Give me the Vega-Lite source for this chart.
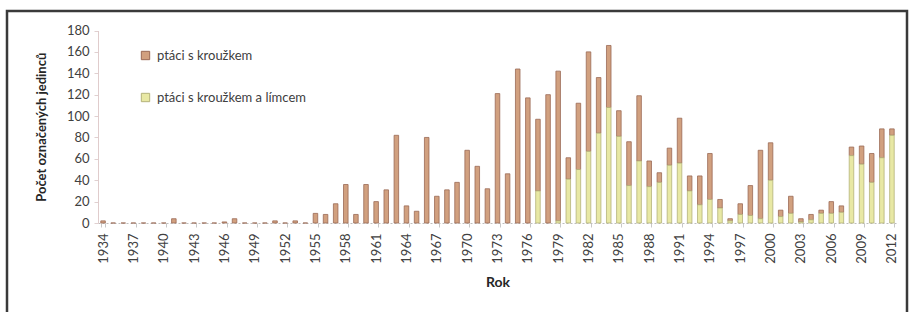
{
  "$schema": "https://vega.github.io/schema/vega-lite/v6.json",
  "autosize": {"type": "none"},
  "padding": {"left": 7, "top": 11, "right": 4, "bottom": -5},
  "width": 900,
  "height": 306,
  "background": "white",
  "config": {
    "view": {"stroke": "#3a3a3a", "strokeWidth": 2.5},
    "font": "Lato"
  },
  "data": {
    "values": [
      {"rok": 1934, "serie": "ptáci s kroužkem", "pocet": 2},
      {"rok": 1935, "serie": "ptáci s kroužkem", "pocet": 0},
      {"rok": 1936, "serie": "ptáci s kroužkem", "pocet": 0},
      {"rok": 1937, "serie": "ptáci s kroužkem", "pocet": 0},
      {"rok": 1938, "serie": "ptáci s kroužkem", "pocet": 0},
      {"rok": 1939, "serie": "ptáci s kroužkem", "pocet": 0},
      {"rok": 1940, "serie": "ptáci s kroužkem", "pocet": 0},
      {"rok": 1941, "serie": "ptáci s kroužkem", "pocet": 4},
      {"rok": 1942, "serie": "ptáci s kroužkem", "pocet": 0},
      {"rok": 1943, "serie": "ptáci s kroužkem", "pocet": 0},
      {"rok": 1944, "serie": "ptáci s kroužkem", "pocet": 0},
      {"rok": 1945, "serie": "ptáci s kroužkem", "pocet": 0},
      {"rok": 1946, "serie": "ptáci s kroužkem", "pocet": 1},
      {"rok": 1947, "serie": "ptáci s kroužkem", "pocet": 4},
      {"rok": 1948, "serie": "ptáci s kroužkem", "pocet": 0},
      {"rok": 1949, "serie": "ptáci s kroužkem", "pocet": 0},
      {"rok": 1950, "serie": "ptáci s kroužkem", "pocet": 0},
      {"rok": 1951, "serie": "ptáci s kroužkem", "pocet": 2},
      {"rok": 1952, "serie": "ptáci s kroužkem", "pocet": 0},
      {"rok": 1953, "serie": "ptáci s kroužkem", "pocet": 2},
      {"rok": 1954, "serie": "ptáci s kroužkem", "pocet": 0},
      {"rok": 1955, "serie": "ptáci s kroužkem", "pocet": 9},
      {"rok": 1956, "serie": "ptáci s kroužkem", "pocet": 8},
      {"rok": 1957, "serie": "ptáci s kroužkem", "pocet": 18},
      {"rok": 1958, "serie": "ptáci s kroužkem", "pocet": 36},
      {"rok": 1959, "serie": "ptáci s kroužkem", "pocet": 8},
      {"rok": 1960, "serie": "ptáci s kroužkem", "pocet": 36},
      {"rok": 1961, "serie": "ptáci s kroužkem", "pocet": 20},
      {"rok": 1962, "serie": "ptáci s kroužkem", "pocet": 31},
      {"rok": 1963, "serie": "ptáci s kroužkem", "pocet": 82},
      {"rok": 1964, "serie": "ptáci s kroužkem", "pocet": 16},
      {"rok": 1965, "serie": "ptáci s kroužkem", "pocet": 11},
      {"rok": 1966, "serie": "ptáci s kroužkem", "pocet": 80},
      {"rok": 1967, "serie": "ptáci s kroužkem", "pocet": 25},
      {"rok": 1968, "serie": "ptáci s kroužkem", "pocet": 31},
      {"rok": 1969, "serie": "ptáci s kroužkem", "pocet": 38},
      {"rok": 1970, "serie": "ptáci s kroužkem", "pocet": 68},
      {"rok": 1971, "serie": "ptáci s kroužkem", "pocet": 53},
      {"rok": 1972, "serie": "ptáci s kroužkem", "pocet": 32},
      {"rok": 1973, "serie": "ptáci s kroužkem", "pocet": 121},
      {"rok": 1974, "serie": "ptáci s kroužkem", "pocet": 46},
      {"rok": 1975, "serie": "ptáci s kroužkem", "pocet": 144},
      {"rok": 1976, "serie": "ptáci s kroužkem", "pocet": 117},
      {"rok": 1977, "serie": "ptáci s kroužkem", "pocet": 67},
      {"rok": 1977, "serie": "ptáci s kroužkem a límcem", "pocet": 30},
      {"rok": 1978, "serie": "ptáci s kroužkem", "pocet": 120},
      {"rok": 1979, "serie": "ptáci s kroužkem", "pocet": 140},
      {"rok": 1979, "serie": "ptáci s kroužkem a límcem", "pocet": 2},
      {"rok": 1980, "serie": "ptáci s kroužkem", "pocet": 20},
      {"rok": 1980, "serie": "ptáci s kroužkem a límcem", "pocet": 41},
      {"rok": 1981, "serie": "ptáci s kroužkem", "pocet": 62},
      {"rok": 1981, "serie": "ptáci s kroužkem a límcem", "pocet": 50},
      {"rok": 1982, "serie": "ptáci s kroužkem", "pocet": 93},
      {"rok": 1982, "serie": "ptáci s kroužkem a límcem", "pocet": 67},
      {"rok": 1983, "serie": "ptáci s kroužkem", "pocet": 52},
      {"rok": 1983, "serie": "ptáci s kroužkem a límcem", "pocet": 84},
      {"rok": 1984, "serie": "ptáci s kroužkem", "pocet": 58},
      {"rok": 1984, "serie": "ptáci s kroužkem a límcem", "pocet": 108},
      {"rok": 1985, "serie": "ptáci s kroužkem", "pocet": 24},
      {"rok": 1985, "serie": "ptáci s kroužkem a límcem", "pocet": 81},
      {"rok": 1986, "serie": "ptáci s kroužkem", "pocet": 41},
      {"rok": 1986, "serie": "ptáci s kroužkem a límcem", "pocet": 35},
      {"rok": 1987, "serie": "ptáci s kroužkem", "pocet": 61},
      {"rok": 1987, "serie": "ptáci s kroužkem a límcem", "pocet": 58},
      {"rok": 1988, "serie": "ptáci s kroužkem", "pocet": 24},
      {"rok": 1988, "serie": "ptáci s kroužkem a límcem", "pocet": 34},
      {"rok": 1989, "serie": "ptáci s kroužkem", "pocet": 9},
      {"rok": 1989, "serie": "ptáci s kroužkem a límcem", "pocet": 38},
      {"rok": 1990, "serie": "ptáci s kroužkem", "pocet": 16},
      {"rok": 1990, "serie": "ptáci s kroužkem a límcem", "pocet": 54},
      {"rok": 1991, "serie": "ptáci s kroužkem", "pocet": 42},
      {"rok": 1991, "serie": "ptáci s kroužkem a límcem", "pocet": 56},
      {"rok": 1992, "serie": "ptáci s kroužkem", "pocet": 14},
      {"rok": 1992, "serie": "ptáci s kroužkem a límcem", "pocet": 30},
      {"rok": 1993, "serie": "ptáci s kroužkem", "pocet": 27},
      {"rok": 1993, "serie": "ptáci s kroužkem a límcem", "pocet": 17},
      {"rok": 1994, "serie": "ptáci s kroužkem", "pocet": 43},
      {"rok": 1994, "serie": "ptáci s kroužkem a límcem", "pocet": 22},
      {"rok": 1995, "serie": "ptáci s kroužkem", "pocet": 8},
      {"rok": 1995, "serie": "ptáci s kroužkem a límcem", "pocet": 14},
      {"rok": 1996, "serie": "ptáci s kroužkem", "pocet": 2},
      {"rok": 1996, "serie": "ptáci s kroužkem a límcem", "pocet": 2},
      {"rok": 1997, "serie": "ptáci s kroužkem", "pocet": 10},
      {"rok": 1997, "serie": "ptáci s kroužkem a límcem", "pocet": 8},
      {"rok": 1998, "serie": "ptáci s kroužkem", "pocet": 28},
      {"rok": 1998, "serie": "ptáci s kroužkem a límcem", "pocet": 7},
      {"rok": 1999, "serie": "ptáci s kroužkem", "pocet": 64},
      {"rok": 1999, "serie": "ptáci s kroužkem a límcem", "pocet": 4},
      {"rok": 2000, "serie": "ptáci s kroužkem", "pocet": 35},
      {"rok": 2000, "serie": "ptáci s kroužkem a límcem", "pocet": 40},
      {"rok": 2001, "serie": "ptáci s kroužkem", "pocet": 6},
      {"rok": 2001, "serie": "ptáci s kroužkem a límcem", "pocet": 6},
      {"rok": 2002, "serie": "ptáci s kroužkem", "pocet": 16},
      {"rok": 2002, "serie": "ptáci s kroužkem a límcem", "pocet": 9},
      {"rok": 2003, "serie": "ptáci s kroužkem", "pocet": 3},
      {"rok": 2003, "serie": "ptáci s kroužkem a límcem", "pocet": 1},
      {"rok": 2004, "serie": "ptáci s kroužkem", "pocet": 5},
      {"rok": 2004, "serie": "ptáci s kroužkem a límcem", "pocet": 3},
      {"rok": 2005, "serie": "ptáci s kroužkem", "pocet": 3},
      {"rok": 2005, "serie": "ptáci s kroužkem a límcem", "pocet": 9},
      {"rok": 2006, "serie": "ptáci s kroužkem", "pocet": 11},
      {"rok": 2006, "serie": "ptáci s kroužkem a límcem", "pocet": 9},
      {"rok": 2007, "serie": "ptáci s kroužkem", "pocet": 6},
      {"rok": 2007, "serie": "ptáci s kroužkem a límcem", "pocet": 10},
      {"rok": 2008, "serie": "ptáci s kroužkem", "pocet": 8},
      {"rok": 2008, "serie": "ptáci s kroužkem a límcem", "pocet": 63},
      {"rok": 2009, "serie": "ptáci s kroužkem", "pocet": 17},
      {"rok": 2009, "serie": "ptáci s kroužkem a límcem", "pocet": 55},
      {"rok": 2010, "serie": "ptáci s kroužkem", "pocet": 27},
      {"rok": 2010, "serie": "ptáci s kroužkem a límcem", "pocet": 38},
      {"rok": 2011, "serie": "ptáci s kroužkem", "pocet": 27},
      {"rok": 2011, "serie": "ptáci s kroužkem a límcem", "pocet": 61},
      {"rok": 2012, "serie": "ptáci s kroužkem", "pocet": 6},
      {"rok": 2012, "serie": "ptáci s kroužkem a límcem", "pocet": 82}
    ]
  },
  "mark": {"type": "bar", "strokeWidth": 0.8},
  "encoding": {
    "x": {
      "field": "rok",
      "type": "ordinal",
      "scale": {"range": [91, 890], "paddingInner": 0.55, "paddingOuter": 0.275},
      "axis": {
        "title": "Rok",
        "titleFont": "Lato",
        "titleFontSize": 14,
        "titleFontWeight": "bold",
        "titleColor": "#262626",
        "titlePadding": 12,
        "offset": -94,
        "values": [1934, 1937, 1940, 1943, 1946, 1949, 1952, 1955, 1958, 1961, 1964, 1967, 1970, 1973, 1976, 1979, 1982, 1985, 1988, 1991, 1994, 1997, 2000, 2003, 2006, 2009, 2012],
        "labelAngle": -90,
        "labelFontSize": 13,
        "labelColor": "#404040",
        "labelPadding": 6,
        "tickBand": "extent",
        "tickSize": 4,
        "tickColor": "#c8c8c8",
        "domainColor": "#bdbdbd",
        "domainDash": [2, 2],
        "grid": false
      }
    },
    "y": {
      "field": "pocet",
      "type": "quantitative",
      "stack": "zero",
      "scale": {"domain": [0, 180], "range": [212, 19.5], "nice": false},
      "axis": {
        "title": "Počet označených jedinců",
        "titleFont": "Lato",
        "titleFontSize": 13,
        "titleFontWeight": "bold",
        "titleColor": "#262626",
        "titlePadding": 18,
        "offset": -91,
        "values": [0, 20, 40, 60, 80, 100, 120, 140, 160, 180],
        "labelFontSize": 13,
        "labelColor": "#404040",
        "labelPadding": 5,
        "tickSize": 4,
        "tickColor": "#e0d0d0",
        "domainColor": "#e0cccc",
        "grid": false
      }
    },
    "color": {
      "field": "serie",
      "type": "nominal",
      "scale": {
        "domain": ["ptáci s kroužkem", "ptáci s kroužkem a límcem"],
        "range": ["#d1a07f", "#e8e8a4"]
      },
      "legend": {
        "title": null,
        "orient": "none",
        "legendX": 132,
        "legendY": 38,
        "symbolType": "square",
        "symbolSize": 70,
        "symbolStrokeWidth": 1,
        "labelFontSize": 13,
        "labelColor": "#404040",
        "labelFont": "Lato",
        "rowPadding": 28,
        "labelOffset": 5
      }
    },
    "stroke": {
      "field": "serie",
      "type": "nominal",
      "scale": {
        "domain": ["ptáci s kroužkem", "ptáci s kroužkem a límcem"],
        "range": ["#9a6a55", "#b4b27a"]
      },
      "legend": null
    },
    "order": {"field": "serie", "sort": "descending"}
  }
}
